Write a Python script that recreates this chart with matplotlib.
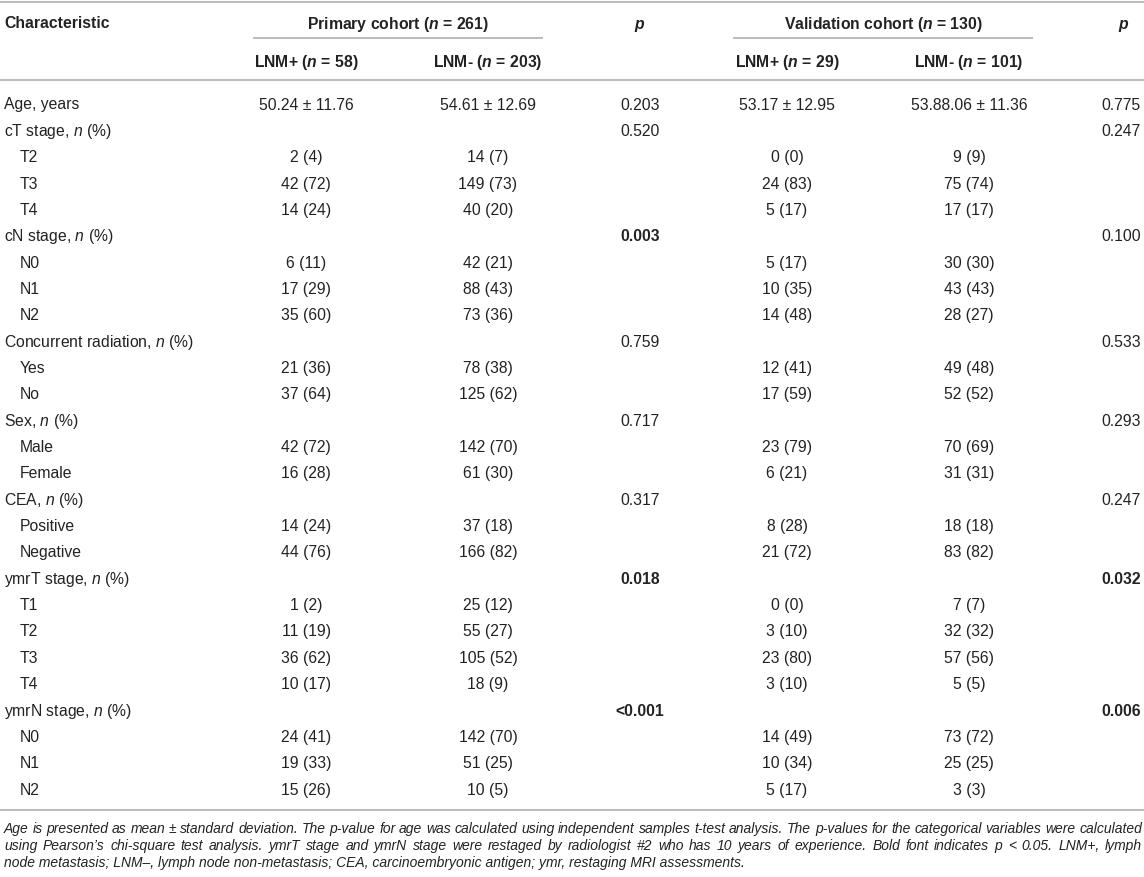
"""
Baseline characteristics table (primary vs validation cohort), drawn with matplotlib.
"""

import matplotlib

matplotlib.use("Agg")
import matplotlib.pyplot as plt

plt.rcParams["font.family"] = ["Liberation Sans", "DejaVu Sans"]
plt.rcParams["mathtext.fontset"] = "custom"
plt.rcParams["mathtext.rm"] = "Liberation Sans"
plt.rcParams["mathtext.it"] = "Liberation Sans:italic"
plt.rcParams["mathtext.bf"] = "Liberation Sans:bold"
plt.rcParams["mathtext.bfit"] = "Liberation Sans:italic:bold"

# ----------------------------------------------------------------------
# Data
# ----------------------------------------------------------------------
group_headers = [r"Primary cohort ($\mathbfit{n}$ = 261)",
                 r"Validation cohort ($\mathbfit{n}$ = 130)"]
sub_headers = [r"LNM+ ($\mathbfit{n}$ = 58)", r"LNM- ($\mathbfit{n}$ = 203)",
               r"LNM+ ($\mathbfit{n}$ = 29)", r"LNM- ($\mathbfit{n}$ = 101)"]

row_labels = [
    "Age, years", "cT stage, $n$ (%)", "T2", "T3", "T4",
    "cN stage, $n$ (%)", "N0", "N1", "N2",
    "Concurrent radiation, $n$ (%)", "Yes", "No",
    "Sex, $n$ (%)", "Male", "Female",
    "CEA, $n$ (%)", "Positive", "Negative",
    "ymrT stage, $n$ (%)", "T1", "T2", "T3", "T4",
    "ymrN stage, $n$ (%)", "N0", "N1", "N2",
]
indented = [False, False, True, True, True,
            False, True, True, True,
            False, True, True,
            False, True, True,
            False, True, True,
            False, True, True, True, True,
            False, True, True, True]

primary_pos = ["50.24 ± 11.76", "", "2 (4)", "42 (72)", "14 (24)",
               "", "6 (11)", "17 (29)", "35 (60)",
               "", "21 (36)", "37 (64)",
               "", "42 (72)", "16 (28)",
               "", "14 (24)", "44 (76)",
               "", "1 (2)", "11 (19)", "36 (62)", "10 (17)",
               "", "24 (41)", "19 (33)", "15 (26)"]
primary_neg = ["54.61 ± 12.69", "", "14 (7)", "149 (73)", "40 (20)",
               "", "42 (21)", "88 (43)", "73 (36)",
               "", "78 (38)", "125 (62)",
               "", "142 (70)", "61 (30)",
               "", "37 (18)", "166 (82)",
               "", "25 (12)", "55 (27)", "105 (52)", "18 (9)",
               "", "142 (70)", "51 (25)", "10 (5)"]
primary_p = ["0.203", "0.520", "", "", "",
             "0.003", "", "", "",
             "0.759", "", "",
             "0.717", "", "",
             "0.317", "", "",
             "0.018", "", "", "", "",
             "<0.001", "", "", ""]
valid_pos = ["53.17 ± 12.95", "", "0 (0)", "24 (83)", "5 (17)",
             "", "5 (17)", "10 (35)", "14 (48)",
             "", "12 (41)", "17 (59)",
             "", "23 (79)", "6 (21)",
             "", "8 (28)", "21 (72)",
             "", "0 (0)", "3 (10)", "23 (80)", "3 (10)",
             "", "14 (49)", "10 (34)", "5 (17)"]
valid_neg = ["53.88.06 ± 11.36", "", "9 (9)", "75 (74)", "17 (17)",
             "", "30 (30)", "43 (43)", "28 (27)",
             "", "49 (48)", "52 (52)",
             "", "70 (69)", "31 (31)",
             "", "18 (18)", "83 (82)",
             "", "7 (7)", "32 (32)", "57 (56)", "5 (5)",
             "", "73 (72)", "25 (25)", "3 (3)"]
valid_p = ["0.775", "0.247", "", "", "",
           "0.100", "", "", "",
           "0.533", "", "",
           "0.293", "", "",
           "0.247", "", "",
           "0.032", "", "", "", "",
           "0.006", "", "", ""]

# p-values printed in bold (p < 0.05)
bold_primary = {"0.003", "0.018", "<0.001"}
bold_valid = {"0.032", "0.006"}

footnote = [
    "Age is presented as mean ± standard deviation. The p-value for age was "
    "calculated using independent samples t-test analysis. The p-values for "
    "the categorical variables were calculated",
    "using Pearson’s chi-square test analysis. ymrT stage and ymrN stage were "
    "restaged by radiologist #2 who has 10 years of experience. Bold font "
    "indicates p < 0.05. LNM+, lymph",
    "node metastasis; LNM–, lymph node non-metastasis; CEA, carcinoembryonic "
    "antigen; ymr, restaging MRI assessments.",
]

# ----------------------------------------------------------------------
# Layout (pixel space)
# ----------------------------------------------------------------------
W, H = 1144, 878
TEXT = "#222222"
RULE = "#bdbdbd"
FS = 11.3

x_label, x_indent = 4, 20
col_x = [306, 488, 640, 787, 969, 1121]
row0, row_step = 104, 26.35

fig = plt.figure(figsize=(W / 100, H / 100), dpi=100)
ax = fig.add_axes([0, 0, 1, 1])
ax.set_xlim(0, W)
ax.set_ylim(H, 0)
ax.axis("off")


def put(x, y, s, ha="center", weight="normal", size=FS, style="normal"):
    return ax.text(x, y + 5.5, s, ha=ha, va="baseline", fontsize=size,
                   fontweight=weight, fontstyle=style, color=TEXT)


def rule(x0, x1, y):
    ax.plot([x0, x1], [y, y], color=RULE, lw=1.5, solid_capstyle="butt")


# rules
rule(0, W, 3)
rule(253, 543, 39)
rule(733, 1033, 39)
rule(0, W, 81)
rule(0, W, 811)

# header
put(x_label, 23, "Characteristic", ha="left", weight="bold")
put(398, 23, group_headers[0], weight="bold")
put(883, 23, group_headers[1], weight="bold")
put(col_x[2], 23, r"$\mathbfit{p}$", weight="bold")
put(col_x[5] + 3, 23, r"$\mathbfit{p}$", weight="bold")
for x, s in zip([col_x[0], col_x[1], col_x[3], col_x[4]], sub_headers):
    put(x, 62, s, weight="bold")

# body
for i, label in enumerate(row_labels):
    y = row0 + i * row_step
    put(x_indent if indented[i] else x_label, y, label, ha="left")
    put(col_x[0], y, primary_pos[i])
    put(col_x[1], y, primary_neg[i])
    put(col_x[2], y, primary_p[i],
        weight="bold" if primary_p[i] in bold_primary else "normal")
    put(col_x[3], y, valid_pos[i])
    put(col_x[4], y, valid_neg[i])
    put(col_x[5], y, valid_p[i],
        weight="bold" if valid_p[i] in bold_valid else "normal")

# footnote: first two lines justified to the full width
renderer = fig.canvas.get_renderer()
foot_fs = 10.0
foot_y = [828, 845, 862]
for k, line in enumerate(footnote):
    y = foot_y[k]
    if k == len(footnote) - 1:
        put(x_label, y, line, ha="left", size=foot_fs, style="italic")
        continue
    words = line.split(" ")
    items = [put(0, y, w, ha="left", size=foot_fs, style="italic") for w in words]
    widths = [t.get_window_extent(renderer).width for t in items]
    gap = max(2.5, (W - 2 - x_label - sum(widths)) / (len(words) - 1))
    x = x_label
    for t, w in zip(items, widths):
        t.set_x(x)
        x += w + gap

fig.savefig("out.png", dpi=100)
